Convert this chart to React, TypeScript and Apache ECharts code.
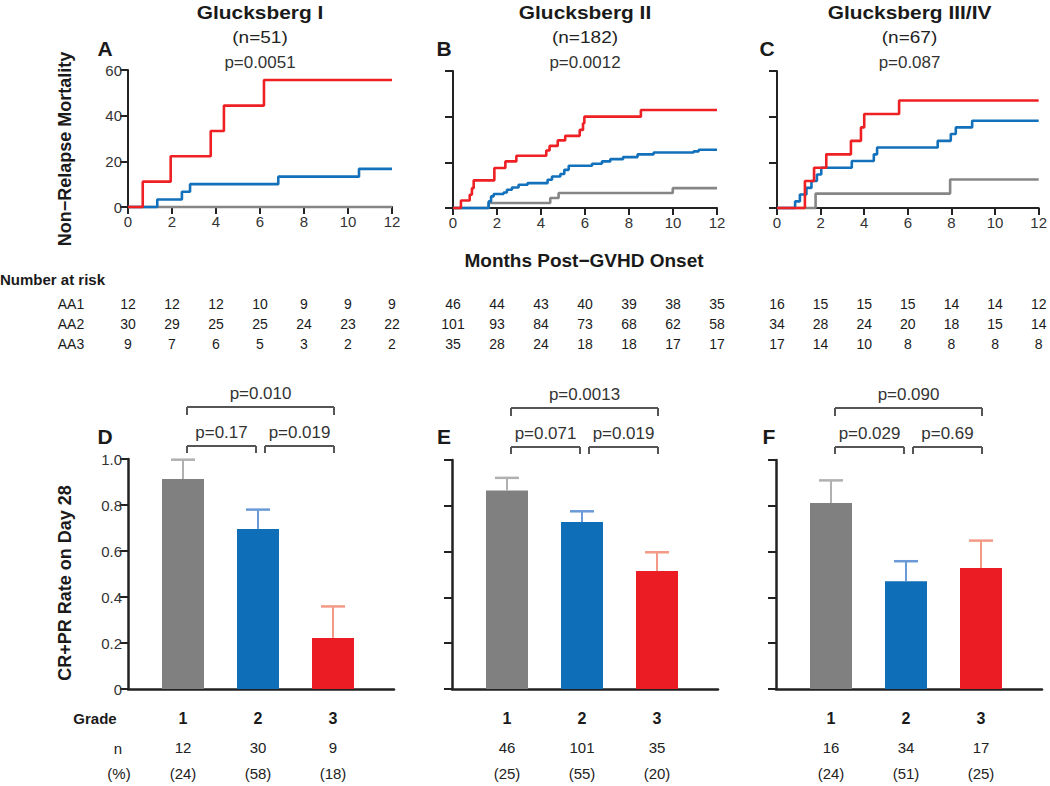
import React, { useEffect, useRef } from 'react';
import * as echarts from 'echarts';

const FONT = '"Liberation Sans", Arial, Helvetica, sans-serif';
const NARROW = '"Liberation Sans Narrow", "Arial Narrow", "Liberation Sans", Arial, sans-serif';

const RED = '#ee2024';
const BLUE = '#1370ba';
const GRAY = '#868686';
const ERR_COLORS = ['#b0b0b0', '#6a9bd8', '#f39a86'];
const BAR_COLORS = ['#808080', '#0e6fb8', '#ec1c24'];

// ---------- Titles ----------
const panelTitles = ['Glucksberg I', 'Glucksberg II', 'Glucksberg III/IV'];
const panelN = ['(n=51)', '(n=182)', '(n=67)'];
const panelP = ['p=0.0051', 'p=0.0012', 'p=0.087'];
const kmLetters = ['A', 'B', 'C'];
const barLetters = ['D', 'E', 'F'];

// ---------- KM curves (months, cumulative NRM %) ----------
const monthTicks = [0, 2, 4, 6, 8, 10, 12];

const aRedT = [0, 0.67, 1.94, 3.76, 4.36, 6.18, 12];
const aRedV = [0, 11.1, 22.2, 33.3, 44.4, 55.6, 55.6];
const aBlueT = [0, 1.33, 2.45, 2.82, 6.83, 10.5, 12];
const aBlueV = [0, 3.3, 6.7, 10.0, 13.3, 16.7, 16.7];
const aGrayT = [0, 12];
const aGrayV = [0, 0];

const bRedT = [0, 0.36, 0.76, 0.86, 0.94, 1.88, 2.38, 2.88, 4.24, 4.39, 4.76, 5.1, 5.76, 5.91, 5.97, 8.54, 12];
const bRedV = [0, 3.3, 5.8, 8.7, 12.1, 17.5, 20.4, 22.9, 25.2, 27.2, 29.6, 31.6, 34.2, 37.1, 40.0, 42.9, 42.9];
const bBlueT = [0, 1.62, 1.73, 1.85, 2.3, 2.45, 2.68, 2.98, 3.39, 4.3, 4.5, 4.88, 5.06, 5.26, 6.32, 6.77, 7.15, 7.73, 8.39, 9.12, 10.94, 11.17, 12];
const bBlueV = [0, 2.9, 5.1, 6.1, 6.8, 8.0, 9.0, 10.2, 10.9, 12.4, 13.8, 14.9, 16.7, 18.5, 19.4, 20.4, 21.4, 22.3, 23.5, 24.3, 24.8, 25.5, 25.5];
const bGrayT = [0, 1.62, 4.42, 4.8, 9.99, 12];
const bGrayV = [0, 2.2, 4.4, 6.6, 8.7, 8.7];

const cRedT = [0, 1.28, 1.7, 2.26, 3.39, 3.85, 4.0, 5.6, 12];
const cRedV = [0, 11.8, 17.6, 23.5, 29.4, 35.3, 41.2, 47.1, 47.1];
const cBlueT = [0, 0.83, 1.05, 1.35, 1.58, 1.83, 2.03, 3.43, 4.44, 4.59, 7.37, 7.97, 8.2, 8.95, 12];
const cBlueV = [0, 2.9, 5.9, 8.8, 11.8, 14.7, 17.6, 20.6, 23.5, 26.5, 29.4, 32.4, 35.3, 38.2, 38.2];
const cGrayT = [0, 1.77, 7.94, 12];
const cGrayV = [0, 6.3, 12.5, 12.5];

// ---------- Number at risk ----------
const riskRows = ['AA1', 'AA2', 'AA3'];
const riskA = [[12, 12, 12, 10, 9, 9, 9], [30, 29, 25, 25, 24, 23, 22], [9, 7, 6, 5, 3, 2, 2]];
const riskB = [[46, 44, 43, 40, 39, 38, 35], [101, 93, 84, 73, 68, 62, 58], [35, 28, 24, 18, 18, 17, 17]];
const riskC = [[16, 15, 15, 15, 14, 14, 12], [34, 28, 24, 20, 18, 15, 14], [17, 14, 10, 8, 8, 8, 8]];

// ---------- Bars (CR+PR rate on day 28) ----------
const grades = ['1', '2', '3'];
const rateD = [0.913, 0.696, 0.222];
const upperD = [0.997, 0.78, 0.359];
const rateE = [0.867, 0.729, 0.515];
const upperE = [0.922, 0.776, 0.597];
const rateF = [0.812, 0.471, 0.528];
const upperF = [0.911, 0.558, 0.648];
const nD = [12, 30, 9];
const pctD = [24, 58, 18];
const nE = [46, 101, 35];
const pctE = [25, 55, 20];
const nF = [16, 34, 17];
const pctF = [24, 51, 25];
const pD = ['p=0.17', 'p=0.019', 'p=0.010'];
const pE = ['p=0.071', 'p=0.019', 'p=0.0013'];
const pF = ['p=0.029', 'p=0.69', 'p=0.090'];
const barTicks = [0, 1, 2];

// ---------- Layout ----------
const kmGrids = [
  { left: 128, top: 70, width: 264, height: 137 },
  { left: 453, top: 71, width: 264, height: 137 },
  { left: 777, top: 71, width: 265, height: 137 },
];
const barGrids = [
  { left: 128, top: 459, width: 266, height: 230 },
  { left: 452, top: 460, width: 266, height: 229 },
  { left: 776, top: 460, width: 266, height: 229 },
];
const BAR_X_MIN = -0.7333;
const BAR_X_MAX = 2.8133;
const RISK_Y = [304, 324, 344];

const zip = (t: number[], v: number[]) => t.map((x, i) => [x, v[i]]);

const kmSets = [
  [[aGrayT, aGrayV, GRAY], [aBlueT, aBlueV, BLUE], [aRedT, aRedV, RED]],
  [[bGrayT, bGrayV, GRAY], [bBlueT, bBlueV, BLUE], [bRedT, bRedV, RED]],
  [[cGrayT, cGrayV, GRAY], [cBlueT, cBlueV, BLUE], [cRedT, cRedV, RED]],
] as any[];
const barSets = [
  { rate: rateD, upper: upperD, n: nD, pct: pctD, p: pD },
  { rate: rateE, upper: upperE, n: nE, pct: pctE, p: pE },
  { rate: rateF, upper: upperF, n: nF, pct: pctF, p: pF },
];
const riskSets = [riskA, riskB, riskC];

function txt(x: number, y: number, text: string, size: number, opts: any = {}) {
  const align = opts.align || 'center';
  return {
    type: 'text',
    x,
    y,
    rotation: opts.rotation || 0,
    scaleX: opts.sx || 1,
    silent: true,
    style: {
      text,
      fontSize: size,
      fontFamily: opts.family || FONT,
      fontWeight: opts.bold ? 'bold' : 'normal',
      fill: opts.color || '#1a1a1a',
      align,
      verticalAlign: 'middle',
      textAlign: align,
      textVerticalAlign: 'middle',
    },
  };
}

function seg(x1: number, y1: number, x2: number, y2: number, color: string, w: number) {
  return {
    type: 'line',
    silent: true,
    z: 10,
    shape: { x1, y1, x2, y2 },
    style: { stroke: color, lineWidth: w },
  };
}

export default function App() {
  const ref = useRef<HTMLDivElement>(null);

  useEffect(() => {
    if (!ref.current) return;
    const chart = echarts.init(ref.current, undefined, { renderer: 'svg' });

    const grid: any[] = [...kmGrids, ...barGrids];
    const xAxis: any[] = [];
    const yAxis: any[] = [];
    const series: any[] = [];

    kmGrids.forEach((g, i) => {
      xAxis.push({
        type: 'value', gridIndex: i, min: 0, max: 12, interval: 2,
        axisLine: { onZero: false, lineStyle: { color: '#222', width: 2 } },
        axisTick: { length: 7, lineStyle: { color: '#222', width: 2 } },
        axisLabel: { fontSize: 15, color: '#333', margin: 7, fontFamily: FONT },
        splitLine: { show: false },
      });
      yAxis.push({
        type: 'value', gridIndex: i, min: 0, max: 60, interval: 20,
        axisLine: { show: true, onZero: false, lineStyle: { color: '#222', width: 2 } },
        axisTick: { show: true, length: 8, lineStyle: { color: '#222', width: 2 } },
        axisLabel: { show: i === 0, fontSize: 15, color: '#333', margin: 6, fontFamily: FONT },
        splitLine: { show: false },
      });
      kmSets[i].forEach((s: any[]) => {
        series.push({
          type: 'line', xAxisIndex: i, yAxisIndex: i, step: 'end',
          symbol: 'none', clip: false,
          data: zip(s[0], s[1]),
          lineStyle: { color: s[2], width: 2.6 },
        });
      });
    });

    barGrids.forEach((g, i) => {
      const b = barSets[i];
      const ai = 3 + i;
      xAxis.push({
        type: 'value', gridIndex: ai, min: BAR_X_MIN, max: BAR_X_MAX,
        axisLine: { onZero: false, lineStyle: { color: '#222', width: 2.5 } },
        axisTick: { show: false },
        splitLine: { show: false },
        axisLabel: {
          customValues: barTicks,
          margin: 14,
          fontFamily: FONT,
          formatter: (v: number) => {
            const k = Math.round(v);
            return `{g|${grades[k]}}\n{n|${b.n[k]}}\n{p|(${b.pct[k]})}`;
          },
          rich: {
            g: { fontSize: 16, fontWeight: 'bold', lineHeight: 30, color: '#1a1a1a', fontFamily: FONT },
            n: { fontSize: 15, lineHeight: 28, color: '#222', fontFamily: FONT },
            p: { fontSize: 15, lineHeight: 24, color: '#222', fontFamily: FONT },
          },
        },
      });
      yAxis.push({
        type: 'value', gridIndex: ai, min: 0, max: 1, interval: 0.2,
        axisLine: { show: true, onZero: false, lineStyle: { color: '#222', width: 2.5 } },
        axisTick: { show: true, length: 8, lineStyle: { color: '#222', width: 2 } },
        axisLabel: {
          show: i === 0, fontSize: 15, color: '#333', margin: 6, fontFamily: FONT,
          formatter: (v: number) => (v === 0 ? '0' : v.toFixed(1)),
        },
        splitLine: { show: false },
      });
      series.push({
        type: 'bar', xAxisIndex: ai, yAxisIndex: ai, barWidth: 42,
        data: b.rate.map((v, k) => ({ value: [barTicks[k], v], itemStyle: { color: BAR_COLORS[k] } })),
      });
    });

    chart.setOption({
      animation: false,
      backgroundColor: '#ffffff',
      textStyle: { fontFamily: FONT },
      grid,
      xAxis,
      yAxis,
      series,
    });

    const gfx: any[] = [];
    // Titles
    kmGrids.forEach((g, i) => {
      const cx = g.left + g.width / 2;
      gfx.push(txt(cx, 12, panelTitles[i], 19, { bold: true, sx: 1.1 }));
      gfx.push(txt(cx, 37, panelN[i], 17, { color: '#222', sx: 1.12 }));
      gfx.push(txt(cx, 62, panelP[i], 16, { color: '#333', sx: 1.06 }));
    });
    [105, 444, 767].forEach((x, i) => gfx.push(txt(x, 48, kmLetters[i], 21, { bold: true })));
    [105, 444, 769].forEach((x, i) => gfx.push(txt(x, 436, barLetters[i], 21, { bold: true })));
    gfx.push(txt(65, 149, 'Non\u2212Relapse Mortality', 18, { bold: true, rotation: Math.PI / 2 }));
    gfx.push(txt(65, 583, 'CR+PR Rate on Day 28', 18, { bold: true, rotation: Math.PI / 2 }));
    gfx.push(txt(584, 260, 'Months Post\u2212GVHD Onset', 19, { bold: true }));
    gfx.push(txt(0, 279, 'Number at risk', 15, { bold: true, align: 'left', family: NARROW }));

    // Risk table
    riskRows.forEach((r, ri) => gfx.push(txt(71, RISK_Y[ri], r, 14, { family: NARROW })));
    riskSets.forEach((tbl, pi) => {
      tbl.forEach((row, ri) => {
        row.forEach((val, ci) => {
          const x = chart.convertToPixel({ xAxisIndex: pi }, monthTicks[ci]) as number;
          gfx.push(txt(x, RISK_Y[ri], String(val), 14, { family: NARROW }));
        });
      });
    });

    // Row headers under bars
    gfx.push(txt(95, 718, 'Grade', 15, { bold: true }));
    gfx.push(txt(118, 748, 'n', 15));
    gfx.push(txt(119, 773, '(%)', 15));

    barGrids.forEach((g, i) => {
      const b = barSets[i];
      const ai = 3 + i;
      // Error bars (upper only)
      b.rate.forEach((v, k) => {
        const p0 = chart.convertToPixel({ xAxisIndex: ai, yAxisIndex: ai }, [barTicks[k], v]) as number[];
        const p1 = chart.convertToPixel({ xAxisIndex: ai, yAxisIndex: ai }, [barTicks[k], b.upper[k]]) as number[];
        gfx.push(seg(p0[0], p0[1], p1[0], p1[1], ERR_COLORS[k], 2));
        gfx.push(seg(p1[0] - 12, p1[1], p1[0] + 12, p1[1], ERR_COLORS[k], 2.5));
      });
      // Brackets
      const c = barTicks.map((k) => chart.convertToPixel({ xAxisIndex: ai }, k) as number);
      const top = g.top;
      const segs = [
        { x1: c[0] + 4, x2: c[1] - 2, y: top - 13, leg: 7, label: b.p[0], ty: top - 27 },
        { x1: c[1] + 7, x2: c[2] + 1, y: top - 13, leg: 7, label: b.p[1], ty: top - 27 },
        { x1: c[0] + 4, x2: c[2] + 1, y: top - 52, leg: 8, label: b.p[2], ty: top - 66 },
      ];
      segs.forEach((s) => {
        gfx.push(seg(s.x1, s.y + s.leg, s.x1, s.y, '#555', 2));
        gfx.push(seg(s.x1, s.y, s.x2, s.y, '#555', 2));
        gfx.push(seg(s.x2, s.y, s.x2, s.y + s.leg, '#555', 2));
        gfx.push(txt((s.x1 + s.x2) / 2, s.ty, s.label, 16, { color: '#333', sx: 1.06 }));
      });
    });

    chart.setOption({ graphic: gfx });

    return () => chart.dispose();
  }, []);

  return (
    <div
      ref={ref}
      style={{ position: 'absolute', left: 0, top: 0, width: 1050, height: 786, background: '#fff' }}
    />
  );
}
